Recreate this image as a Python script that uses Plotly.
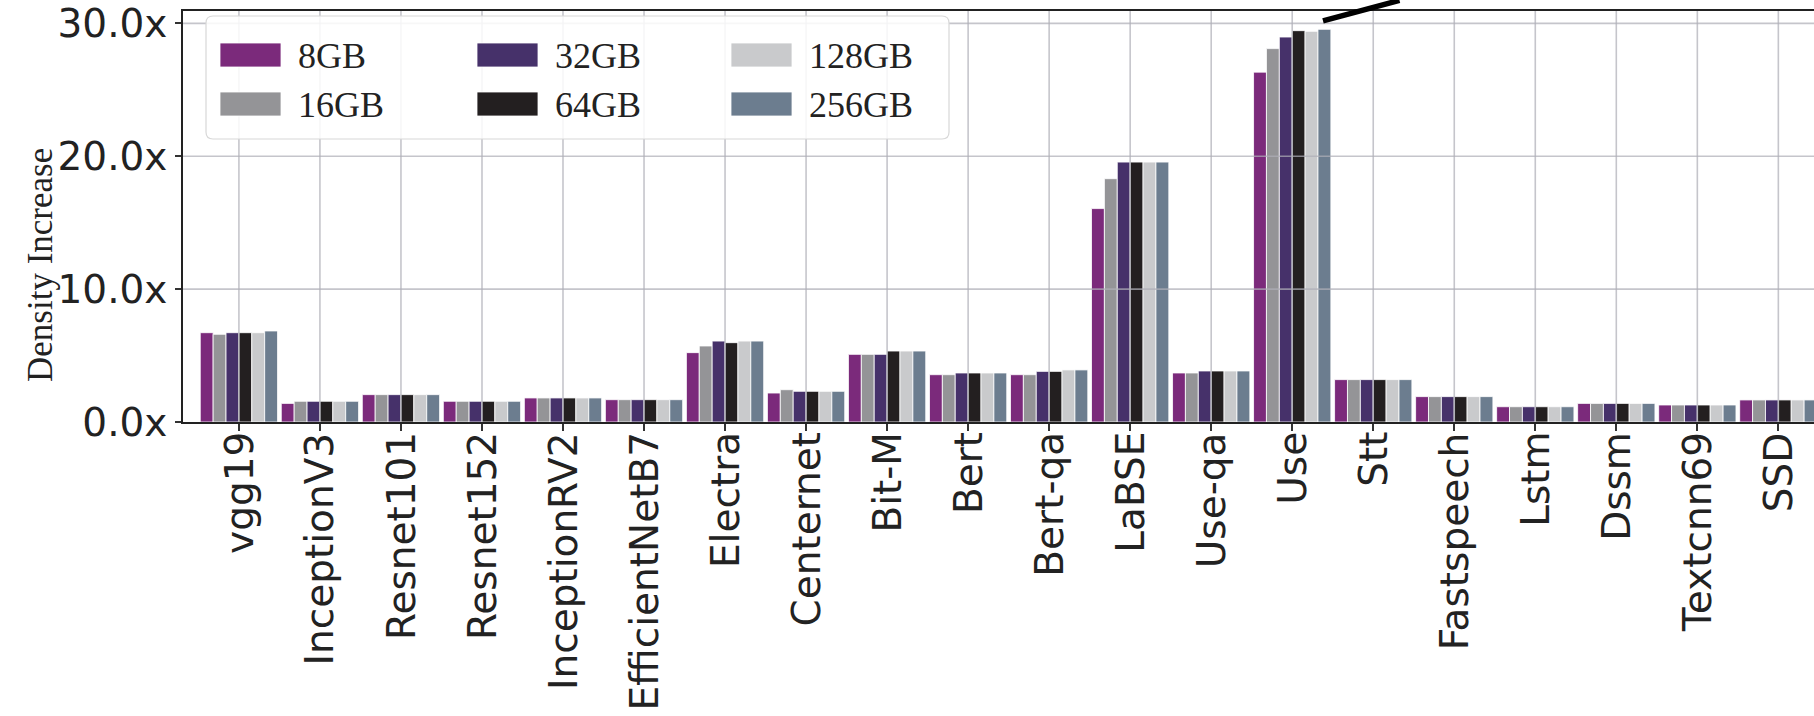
import plotly.graph_objects as go

# ---- data -------------------------------------------------------------
models = ["vgg19", "InceptionV3", "Resnet101", "Resnet152", "InceptionRV2",
          "EfficientNetB7", "Electra", "Centernet", "Bit-M", "Bert", "Bert-qa",
          "LaBSE", "Use-qa", "Use", "Stt", "Fastspeech", "Lstm", "Dssm",
          "Textcnn69", "SSD"]

mem_8gb   = [6.72, 1.40, 2.06, 1.56, 1.81, 1.68, 5.22, 2.18, 5.09, 3.56, 3.56,
             16.06, 3.69, 26.33, 3.19, 1.91, 1.15, 1.40, 1.28, 1.66]
mem_16gb  = [6.60, 1.56, 2.06, 1.56, 1.81, 1.68, 5.72, 2.43, 5.09, 3.56, 3.56,
             18.31, 3.69, 28.10, 3.19, 1.91, 1.15, 1.40, 1.28, 1.66]
mem_32gb  = [6.72, 1.56, 2.06, 1.56, 1.81, 1.68, 6.09, 2.31, 5.09, 3.69, 3.81,
             19.56, 3.84, 28.97, 3.19, 1.91, 1.15, 1.40, 1.28, 1.66]
mem_64gb  = [6.72, 1.56, 2.06, 1.56, 1.81, 1.68, 5.97, 2.31, 5.34, 3.69, 3.81,
             19.56, 3.84, 29.45, 3.19, 1.91, 1.15, 1.40, 1.28, 1.66]
mem_128gb = [6.72, 1.56, 2.06, 1.56, 1.81, 1.68, 6.09, 2.31, 5.34, 3.69, 3.92,
             19.56, 3.84, 29.40, 3.19, 1.91, 1.15, 1.40, 1.28, 1.66]
mem_256gb = [6.85, 1.56, 2.06, 1.56, 1.81, 1.68, 6.09, 2.31, 5.34, 3.69, 3.92,
             19.56, 3.84, 29.55, 3.19, 1.91, 1.15, 1.40, 1.28, 1.66]

series_names = ["8GB", "16GB", "32GB", "64GB", "128GB", "256GB"]
series_values = [mem_8gb, mem_16gb, mem_32gb, mem_64gb, mem_128gb, mem_256gb]
series_colors = ["#7b2a7b", "#949497", "#46316a", "#231f20", "#c9cacc", "#6c7d8f"]

y_ticks = [0, 10, 20, 30]
y_tick_text = [f"{t:.1f}x" for t in y_ticks]

# ---- layout geometry ---------------------------------------------------
W, H = 1814, 716
M_L, M_R, M_T, M_B = 183, 0, 11, 294
PW, PH = W - M_L - M_R, H - M_T - M_B

SANS = "DejaVu Sans"
SERIF = "Liberation Serif"
INK = "#222222"
GRID = "rgba(175,175,183,0.72)"


def px_x(px):
    return (px - M_L) / PW


def px_y(py):
    return (H - M_B - py) / PH


fig = go.Figure()
for name, vals, col in zip(series_names, series_values, series_colors):
    fig.add_trace(go.Bar(
        x=models, y=vals, name=name, showlegend=False,
        marker=dict(color=col, line=dict(color="white", width=0.8)),
    ))

shapes = []
annotations = []

# grid drawn on top of the bars
for m in models:
    shapes.append(dict(type="line", xref="x", yref="paper", x0=m, x1=m,
                       y0=0, y1=1, layer="above",
                       line=dict(color=GRID, width=1.6)))
for t in y_ticks[1:]:
    shapes.append(dict(type="line", xref="paper", yref="y", x0=0, x1=1,
                       y0=t, y1=t, layer="above",
                       line=dict(color=GRID, width=1.6)))

# vertical category labels hanging just below the axis ticks
for m in models:
    annotations.append(dict(xref="x", yref="paper", x=m, y=px_y(431),
                            text=m, textangle=-90, showarrow=False,
                            xanchor="center", yanchor="top", borderpad=0,
                            font=dict(family=SANS, size=39, color=INK)))

# legend frame (rounded) with three columns, two rows
bx0, bx1, by0, by1, r = px_x(206), px_x(949), px_y(139), px_y(16), 7
rx, ry = r / PW, r / PH
path = (f"M{bx0 + rx},{by0} L{bx1 - rx},{by0} Q{bx1},{by0} {bx1},{by0 + ry} "
        f"L{bx1},{by1 - ry} Q{bx1},{by1} {bx1 - rx},{by1} "
        f"L{bx0 + rx},{by1} Q{bx0},{by1} {bx0},{by1 - ry} "
        f"L{bx0},{by0 + ry} Q{bx0},{by0} {bx0 + rx},{by0} Z")
shapes.append(dict(type="path", xref="paper", yref="paper", path=path,
                   layer="above", fillcolor="rgba(255,255,255,0.85)",
                   line=dict(color="#d8d8d8", width=1.2)))

col_x = [220, 477, 731]
row_y = [55, 104]
for i, (name, col) in enumerate(zip(series_names, series_colors)):
    cx = col_x[i // 2]
    cy = row_y[i % 2]
    shapes.append(dict(type="rect", xref="paper", yref="paper",
                       x0=px_x(cx), x1=px_x(cx + 61),
                       y0=px_y(cy + 12), y1=px_y(cy - 12), layer="above",
                       fillcolor=col, line=dict(color="white", width=0.8)))
    annotations.append(dict(xref="paper", yref="paper", x=px_x(cx + 76),
                            y=px_y(cy + 1), text=name, showarrow=False,
                            xanchor="left", yanchor="middle",
                            font=dict(family=SERIF, size=36, color=INK)))

# y-axis title
annotations.append(dict(xref="paper", yref="paper", x=px_x(40), y=px_y(265),
                        text="Density Increase", textangle=-90,
                        showarrow=False, xanchor="center", yanchor="middle",
                        font=dict(family=SERIF, size=35, color=INK)))

# pointer line leaving the Use group toward the upper right
use_i = models.index("Use")
annotations.append(dict(
    x=use_i + 0.38, y=max(mem_256gb) + 0.64, xref="x", yref="y",
    text="", showarrow=True, arrowhead=0, arrowwidth=5.5, arrowcolor="black",
    ax=78, ay=-23, standoff=0, startstandoff=0,
))

fig.update_layout(
    width=W, height=H,
    margin=dict(l=M_L, r=M_R, t=M_T, b=M_B, pad=0, autoexpand=False),
    paper_bgcolor="white", plot_bgcolor="white",
    barmode="group", bargap=0.046, bargroupgap=0,
    shapes=shapes, annotations=annotations,
    showlegend=False,
)
fig.update_xaxes(
    range=[-0.69, 19.44], showgrid=False, zeroline=False, automargin=False,
    showline=True, linecolor=INK, linewidth=1.5, mirror=True,
    ticks="outside", ticklen=7, tickwidth=1.5, tickcolor="#333333",
    showticklabels=False,
)
fig.update_yaxes(
    range=[0, 30.93], tickvals=y_ticks, ticktext=y_tick_text,
    showgrid=False, zeroline=False, automargin=False,
    showline=True, linecolor=INK, linewidth=1.5,
    ticks="outside", ticklen=6, tickwidth=1.5, tickcolor="#333333",
    tickfont=dict(family=SANS, size=39, color=INK),
)

fig.write_html("out.html")
